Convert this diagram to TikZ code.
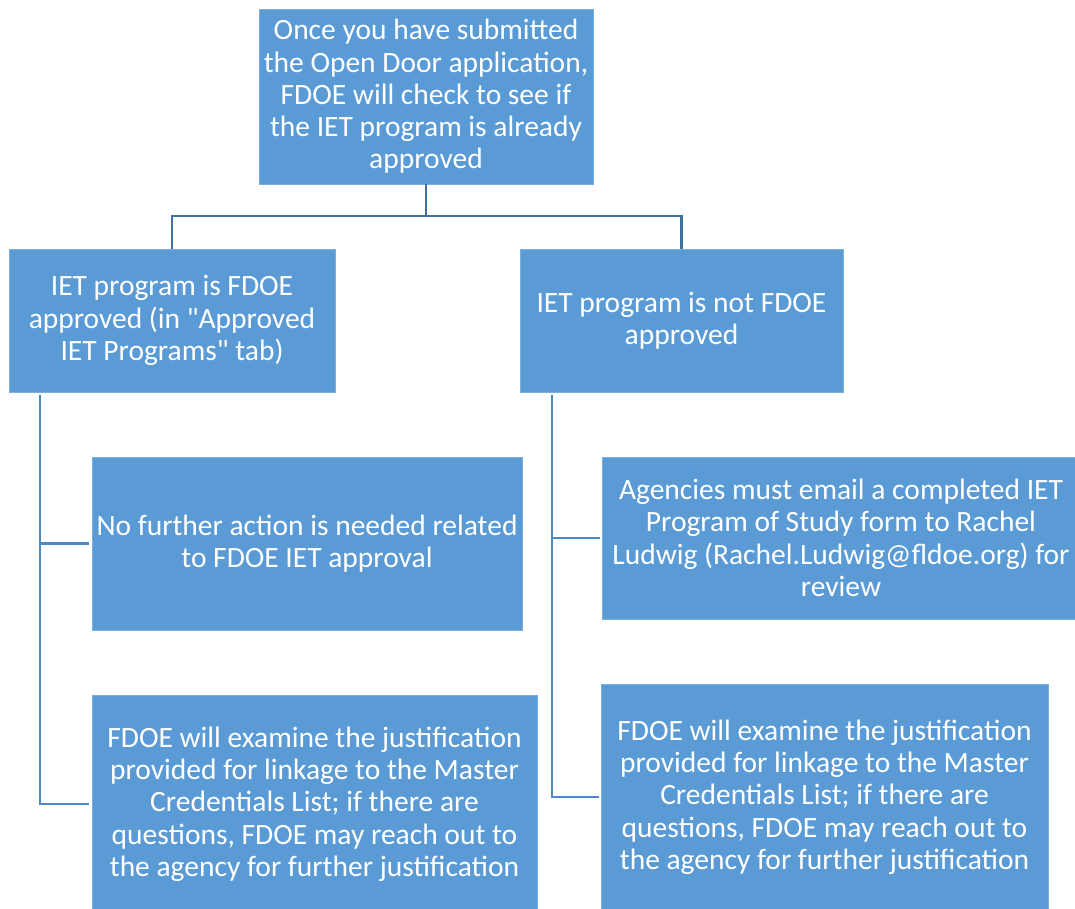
\documentclass[tikz,border=0pt]{standalone}
\usepackage{fontspec}
\setmainfont{Carlito}[Ligatures=TeXOff]
\definecolor{boxblue}{HTML}{5B9BD5}
\definecolor{connA}{HTML}{41719C}
\definecolor{connB}{HTML}{4F88C6}
\begin{document}
\begin{tikzpicture}[x=1pt,y=-1pt,
  box/.style={fill=boxblue, draw=boxblue!80!white, line width=0.6pt, text=white, align=center, inner sep=0pt,
    font=\fontsize{29.5}{32.3}\selectfont},
  connt/.style={draw=connA, line width=2.6pt},
  conns/.style={draw=connB, line width=2.6pt}]
\useasboundingbox (0,0) rectangle (1075,909);
\begin{scope}
\clip (0,0) rectangle (1075,909);
\node[box, minimum width=334pt, minimum height=175pt] (top) at (426,96.5)
  {Once you have submitted\\the Open Door application,\\FDOE will check to see if\\the IET program is already\\approved};
\node[box, minimum width=326pt, minimum height=143pt] (L) at (172,320.5)
  {IET program is FDOE\\approved (in "Approved\\IET Programs" tab)};
\node[box, minimum width=323pt, minimum height=143pt] (R) at (681.5,320.5)
  {IET program is not FDOE\\approved};
\node[box, minimum width=430pt, minimum height=173pt] (LC1) at (307,543.5)
  {No further action is needed related\\to FDOE IET approval};
\node[box, minimum width=445pt, minimum height=218pt] (LC2) at (314.5,804)
  {FDOE will examine the justification\\provided for linkage to the Master\\Credentials List; if there are\\questions, FDOE may reach out to\\the agency for further justification};
\node[box, minimum width=478pt, minimum height=162pt] (RC1) at (841,538)
  {Agencies must email a completed IET\\Program of Study form to Rachel\\Ludwig (Rachel.Ludwig@fldoe.org) for\\review};
\node[box, minimum width=447pt, minimum height=226pt] (RC2) at (824.5,797)
  {FDOE will examine the justification\\provided for linkage to the Master\\Credentials List; if there are\\questions, FDOE may reach out to\\the agency for further justification};
\end{scope}
\coordinate (j) at (426,216);
\draw[connt] (top.south) -- (j);
\draw[connt] (j) -| (L.north);
\draw[connt] (j) -| (R.north);
\coordinate (lt) at (40,395);
\coordinate (rt) at (552,395);
\draw[conns] (lt) |- ([xshift=-3pt]LC1.west);
\draw[conns] (lt) |- ([xshift=-3pt]LC2.west);
\draw[conns] (rt) |- ([xshift=-2pt]RC1.west);
\draw[conns] (rt) |- ([xshift=-2pt]RC2.west);
\end{tikzpicture}
\end{document}
